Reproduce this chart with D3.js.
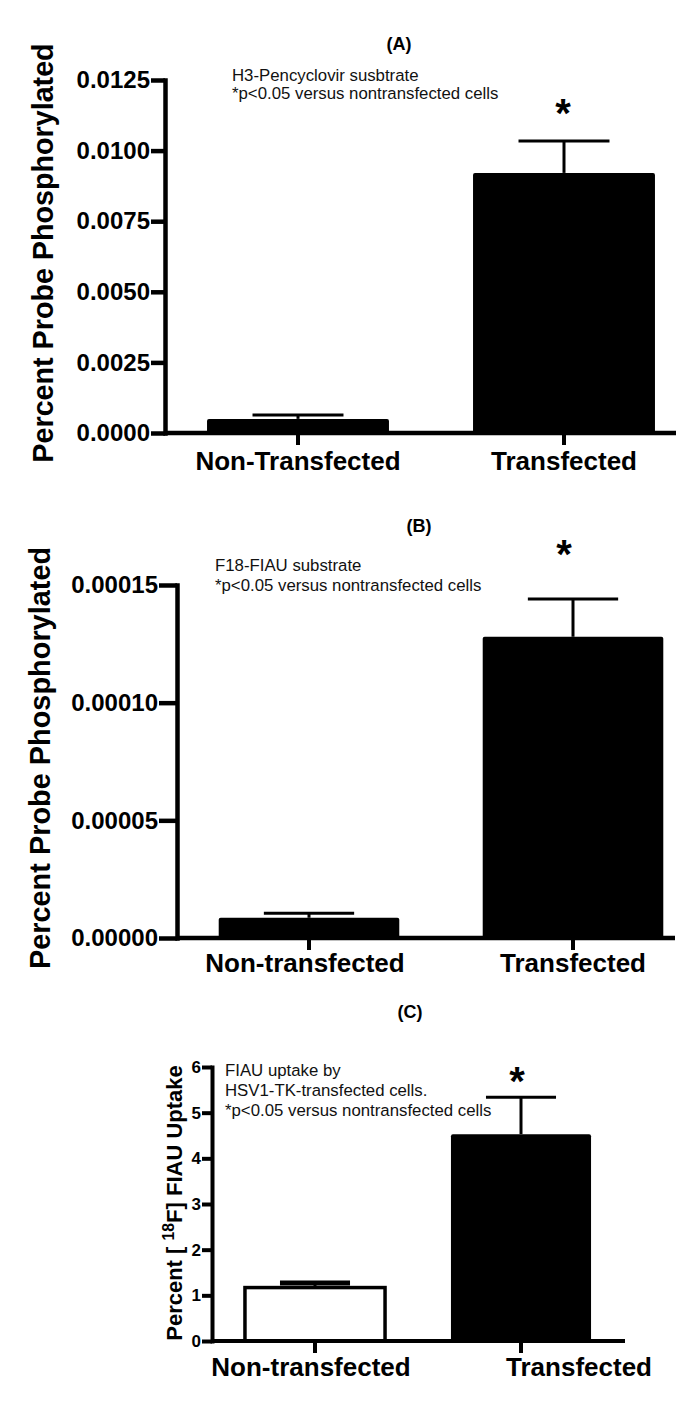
<!DOCTYPE html>
<html><head><meta charset="utf-8">
<script src="https://cdn.jsdelivr.net/npm/d3@7"></script>
<style>
html,body{margin:0;padding:0;background:#fff;}
svg{display:block;}
</style></head>
<body>
<svg id="chart" width="685" height="1427"></svg>
<script>
// ---------- DATA ----------
const catsA = ["Non-Transfected", "Transfected"];
const valsA = [0.00050, 0.00921];
const semA = [0.00014, 0.00113];
const ticksA = [0, 0.0025, 0.0050, 0.0075, 0.0100, 0.0125];
const tickLabelsA = ["0.0000", "0.0025", "0.0050", "0.0075", "0.0100", "0.0125"];
const noteA = ["H3-Pencyclovir susbtrate", "*p<0.05 versus nontransfected cells"];

const catsB = ["Non-transfected", "Transfected"];
const valsB = [0.0000086, 0.000128];
const semB = [0.0000019, 0.000016];
const ticksB = [0, 0.00005, 0.00010, 0.00015];
const tickLabelsB = ["0.00000", "0.00005", "0.00010", "0.00015"];
const noteB = ["F18-FIAU substrate", "*p<0.05 versus nontransfected cells"];

const catsC = ["Non-transfected", "Transfected"];
const valsC = [1.17, 4.53];
const semC = [0.10, 0.81];
const ticksC = [0, 1, 2, 3, 4, 5, 6];
const tickLabelsC = ["0", "1", "2", "3", "4", "5", "6"];
const noteC = ["FIAU uptake by", "HSV1-TK-transfected cells.", "*p<0.05 versus nontransfected cells"];

const svg = d3.select("#chart");
svg.append("rect").attr("width", 685).attr("height", 1427).attr("fill", "#fff");

const FONT = "'Liberation Sans', Arial, Helvetica, sans-serif";

function panel(o) {
  const g = svg.append("g");
  const y = d3.scaleLinear().domain([o.ticks[0], o.ticks[o.ticks.length - 1]]).range([o.y0, o.yTop]);
  const x = d3.scaleBand().domain(o.cats).range([o.ax, o.xRangeEnd]).paddingInner(0).paddingOuter(0);
  const bw = x.bandwidth() * o.barFrac;

  // bars
  g.selectAll(".bar").data(o.cats).join("rect")
    .attr("x", d => x(d) + (x.bandwidth() - bw) / 2)
    .attr("y", (d, i) => y(o.vals[i]))
    .attr("width", bw)
    .attr("height", (d, i) => o.y0 - y(o.vals[i]))
    .attr("rx", (d, i) => o.fills[i] === "#fff" ? 0 : 2)
    .attr("fill", (d, i) => o.fills[i])
    .attr("stroke", "#000")
    .attr("stroke-width", (d, i) => o.fills[i] === "#fff" ? 3.5 : 0);

  // error bars
  const eg = g.selectAll(".err").data(o.cats).join("g");
  eg.append("line")
    .attr("x1", d => x(d) + x.bandwidth() / 2).attr("x2", d => x(d) + x.bandwidth() / 2)
    .attr("y1", (d, i) => y(o.vals[i])).attr("y2", (d, i) => y(o.vals[i] + o.sem[i]))
    .attr("stroke", "#000").attr("stroke-width", 3);
  eg.append("line")
    .attr("x1", d => x(d) + x.bandwidth() / 2 - bw * 0.25).attr("x2", d => x(d) + x.bandwidth() / 2 + bw * 0.25)
    .attr("y1", (d, i) => y(o.vals[i] + o.sem[i])).attr("y2", (d, i) => y(o.vals[i] + o.sem[i]))
    .attr("stroke", "#000").attr("stroke-width", (d, i) => o.capW[i]);

  // y axis
  const yAxis = d3.axisLeft(y).tickValues(o.ticks).tickFormat((d, i) => o.tickLabels[i])
    .tickSizeInner(o.tickLen).tickSizeOuter(0).tickPadding(1);
  const ya = g.append("g").attr("transform", `translate(${o.ax},0)`).call(yAxis);
  ya.select(".domain").attr("stroke-width", o.axW).attr("stroke-linecap", "square");
  ya.selectAll(".tick line").attr("stroke-width", o.axW);
  ya.selectAll(".tick text").attr("font-family", FONT).attr("font-weight", "bold")
    .attr("font-size", o.tickFs).attr("fill", "#000");

  // x axis line
  g.append("line").attr("x1", o.ax).attr("x2", o.xAxisEnd).attr("y1", o.y0).attr("y2", o.y0)
    .attr("stroke", "#000").attr("stroke-width", o.axW);
  const xAxis = d3.axisBottom(x).tickSizeInner(12).tickSizeOuter(0).tickPadding(0);
  const xa = g.append("g").attr("transform", `translate(0,${o.y0})`).call(xAxis);
  xa.select(".domain").remove();
  xa.selectAll(".tick line").attr("stroke-width", 4);
  xa.selectAll(".tick text").attr("font-family", FONT).attr("font-weight", "bold")
    .attr("font-size", 26).attr("fill", "#000")
    .attr("y", o.catY - o.y0).attr("dy", 0)
    .attr("dx", (d, i) => o.catDx[i]);

  // y title
  const yt = g.append("text")
    .attr("transform", `translate(${o.ytX},${o.ytY}) rotate(-90)`)
    .attr("text-anchor", "middle").attr("font-family", FONT).attr("font-weight", "bold")
    .attr("font-size", o.ytFs).attr("fill", "#000");
  o.ytParts.forEach(p => {
    const t = yt.append("tspan").text(p.t);
    if (p.sup) t.attr("baseline-shift", "super").attr("font-size", o.ytFs * 0.72);
  });

  // panel title
  g.append("text").attr("x", o.titleX).attr("y", o.titleY).attr("text-anchor", "middle")
    .attr("font-family", FONT).attr("font-weight", "bold").attr("font-size", 18).text(o.title);

  // note
  o.note.forEach((line, i) => {
    g.append("text").attr("x", o.noteX).attr("y", o.noteY + i * o.noteLH)
      .attr("font-family", FONT).attr("font-size", 16.8).attr("fill", "#111").text(line);
  });

  // asterisk on transfected bar
  g.append("text").attr("x", x(o.cats[1]) + x.bandwidth() / 2 + o.astDx).attr("y", o.astY)
    .attr("text-anchor", "middle").attr("font-family", FONT).attr("font-weight", "bold")
    .attr("font-size", 40).text("*");
}

panel({
  cats: catsA, vals: valsA, sem: semA, ticks: ticksA, tickLabels: tickLabelsA, note: noteA,
  ax: 165, y0: 433, yTop: 80, xRangeEnd: 697, xAxisEnd: 676, barFrac: 0.684,
  fills: ["#000", "#000"], axW: 4.5, tickLen: 14, tickFs: 24, capW: [3, 3],
  catY: 470, catDx: [0, 0],
  ytX: 53, ytY: 253, ytFs: 28.7, ytParts: [{t: "Percent Probe Phosphorylated"}],
  title: "(A)", titleX: 399, titleY: 50,
  noteX: 232, noteY: 81, noteLH: 18,
  astDx: -1, astY: 127
});

panel({
  cats: catsB, vals: valsB, sem: semB, ticks: ticksB, tickLabels: tickLabelsB, note: noteB,
  ax: 177, y0: 938, yTop: 585, xRangeEnd: 705, xAxisEnd: 675, barFrac: 0.684,
  fills: ["#000", "#000"], axW: 4.5, tickLen: 18, tickFs: 24, capW: [3, 3],
  catY: 972, catDx: [-4, 0],
  ytX: 50, ytY: 758, ytFs: 28.9, ytParts: [{t: "Percent Probe Phosphorylated"}],
  title: "(B)", titleX: 419, titleY: 532,
  noteX: 215, noteY: 571, noteLH: 20,
  astDx: -9, astY: 568
});

panel({
  cats: catsC, vals: valsC, sem: semC, ticks: ticksC, tickLabels: tickLabelsC, note: noteC,
  ax: 212, y0: 1341, yTop: 1067, xRangeEnd: 624, xAxisEnd: 625, barFrac: 0.68,
  fills: ["#fff", "#000"], axW: 4, tickLen: 10, tickFs: 17, capW: [5, 3],
  catY: 1376, catDx: [-4, 58],
  ytX: 182, ytY: 1203, ytFs: 22, ytParts: [{t: "Percent [ "}, {t: "18", sup: true}, {t: "F] FIAU Uptake"}],
  title: "(C)", titleX: 410, titleY: 1018,
  noteX: 225, noteY: 1076, noteLH: 20,
  astDx: -4, astY: 1095
});
</script>
</body></html>
